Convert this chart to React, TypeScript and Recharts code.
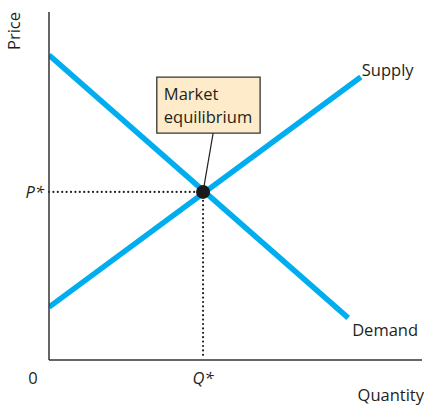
import { ComposedChart, Line, XAxis, YAxis, ReferenceLine, ReferenceDot, ReferenceArea } from 'recharts'

if (typeof document !== 'undefined') document.body.style.margin = '0'

const demand = [
  { q: 0, p: 87.6 },
  { q: 80.2, p: 12.1 },
]
const supply = [
  { q: 0, p: 15.2 },
  { q: 83.6, p: 81.3 },
]
const Q_STAR = 41.3
const P_STAR = 48.3
const xTicks = [0, Q_STAR]
const xTickLabels = ['0', 'Q*']
const yTicks = [P_STAR]
const yTickLabels = ['P*']

const BLUE = '#00AEEF'
const INK = '#231F20'
const FONT = '"Open Sans", sans-serif'
const FS = 16.5

// callout box, in axis units
const BOX = { x1: 28.9, x2: 56.6, y1: 65.2, y2: 81.3, lead: 44 }

function XTick(props: any) {
  const { x, y, index } = props
  const isZero = index === 0
  return (
    <text x={isZero ? x - 16 : x} y={y + 16} textAnchor="middle" fontFamily={FONT} fontSize={FS}
      fontStyle={isZero ? 'normal' : 'italic'} fill={INK}>
      {xTickLabels[index]}
    </text>
  )
}

function YTick(props: any) {
  const { x, y, index } = props
  return (
    <text x={x + 3} y={y + 6} textAnchor="end" fontFamily={FONT} fontSize={FS} fontStyle="italic" fill={INK}>
      {yTickLabels[index]}
    </text>
  )
}

function endLabel(text: string, last: number, dx: number, dy: number) {
  return (props: any) => {
    if (props.index !== last) return null
    return (
      <text x={props.x + dx} y={props.y + dy} fontFamily={FONT} fontSize={FS} fill={INK}>{text}</text>
    )
  }
}

export default function App() {
  return (
    <ComposedChart width={424} height={410} margin={{ top: 12, right: 2, bottom: 0, left: 0 }}>
      <XAxis type="number" dataKey="q" domain={[0, 100]} ticks={xTicks} tick={<XTick />} tickLine={false}
        axisLine={{ stroke: '#333', strokeWidth: 1.5 }} height={50} allowDataOverflow
        label={(p: any) => (
          <text x={p.viewBox.x + p.viewBox.width + 2} y={p.viewBox.y + 41} textAnchor="end" fontFamily={FONT} fontSize={FS} fill={INK}>Quantity</text>
        )} />
      <YAxis type="number" dataKey="p" domain={[0, 100]} ticks={yTicks} tick={<YTick />} tickLine={false}
        axisLine={{ stroke: '#333', strokeWidth: 1.5 }} width={49} allowDataOverflow
        label={(p: any) => (
          <text x={0} y={0} transform={`translate(20, ${p.viewBox.y + 19}) rotate(-90)`} textAnchor="middle" fontFamily={FONT} fontSize={FS} fill={INK}>Price</text>
        )} />
      <ReferenceLine segment={[{ x: 0, y: P_STAR }, { x: Q_STAR, y: P_STAR }]} stroke={INK} strokeWidth={2.2}
        strokeDasharray="0 4.4" strokeLinecap="round" ifOverflow="visible" />
      <ReferenceLine segment={[{ x: Q_STAR, y: 1.5 }, { x: Q_STAR, y: P_STAR }]} stroke={INK} strokeWidth={2.2}
        strokeDasharray="0 4.4" strokeLinecap="round" ifOverflow="visible" />
      <Line data={demand} dataKey="p" type="linear" stroke={BLUE} strokeWidth={5.5} dot={false} activeDot={false}
        isAnimationActive={false} label={endLabel('Demand', demand.length - 1, 4, 18)} />
      <Line data={supply} dataKey="p" type="linear" stroke={BLUE} strokeWidth={5.5} dot={false} activeDot={false}
        isAnimationActive={false} label={endLabel('Supply', supply.length - 1, 1, -1)} />
      <ReferenceLine segment={[{ x: BOX.lead, y: BOX.y1 }, { x: Q_STAR, y: P_STAR }]} stroke={INK} strokeWidth={1.2} ifOverflow="visible" />
      <ReferenceArea x1={BOX.x1} x2={BOX.x2} y1={BOX.y1} y2={BOX.y2} fill="#FDEBC9" fillOpacity={1}
        stroke="#333" strokeWidth={1.3} ifOverflow="visible"
        label={(p: any) => (
          <text fontFamily={FONT} fontSize={FS} fill={INK}>
            <tspan x={p.viewBox.x + 7} y={p.viewBox.y + 23}>Market</tspan>
            <tspan x={p.viewBox.x + 7} y={p.viewBox.y + 46}>equilibrium</tspan>
          </text>
        )} />
      <ReferenceDot x={Q_STAR} y={P_STAR} r={7} fill="#1a1a1a" stroke="none" ifOverflow="visible" />
    </ComposedChart>
  )
}
